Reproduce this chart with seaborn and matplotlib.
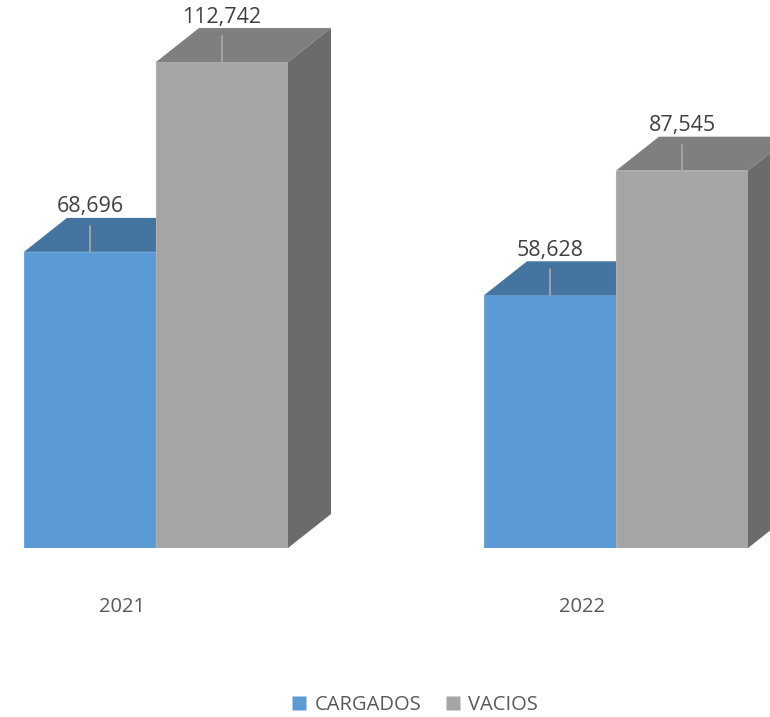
import seaborn as sns
import matplotlib.pyplot as plt
import matplotlib.transforms as mtransforms
from matplotlib.patches import Polygon
from matplotlib.lines import Line2D
import pandas as pd

years = ["2021", "2022"]
tipos = ["CARGADOS", "VACIOS"]
cargados = [68696, 58628]
vacios = [112742, 87545]

df = pd.DataFrame({
    "year": years * 2,
    "tipo": [tipos[0]] * 2 + [tipos[1]] * 2,
    "valor": cargados + vacios,
})

# colores frente / arriba / lado
front = {"CARGADOS": "#5B9BD5", "VACIOS": "#A5A5A5"}
top = {"CARGADOS": "#44749F", "VACIOS": "#7F7F7F"}
side = {"CARGADOS": "#3A6489", "VACIOS": "#6B6B6B"}
edge = {"CARGADOS": "#6FA8DC", "VACIOS": "#B0B0B0"}

sns.set_style("white")
plt.rcParams['font.family'] = ['Open Sans', 'DejaVu Sans']

W, H = 770, 717
fig = plt.figure(figsize=(W / 100, H / 100), dpi=100)
base_px = 717 - 548
ax = fig.add_axes([0, base_px / H, 1, 548 / H])

sns.barplot(data=df, x="year", y="valor", hue="tipo", hue_order=tipos,
            palette=front, width=0.574, saturation=1, ax=ax, legend=False,
            linewidth=0)

upx = 232.0  # valor por pixel
ax.set_ylim(0, 548 * upx)
ax.set_xlim(-156 / 460, (W - 156) / 460)

# profundidad 3D en pixeles
dxp, dyp = 43, 34
dx = dxp / 460
dy = dyp * upx

for i, tipo in enumerate(tipos):
    bars = ax.containers[i]
    for bar in bars:
        bar.set_zorder(2 + 2 * i)
        bar.set_edgecolor(edge[tipo])
        bar.set_linewidth(0.8)
        x0 = bar.get_x()
        w = bar.get_width()
        h = bar.get_height()
        top_poly = Polygon([(x0, h), (x0 + w, h), (x0 + w + dx, h + dy), (x0 + dx, h + dy)],
                           closed=True, facecolor=top[tipo], edgecolor="none", zorder=2.5 + 2 * i)
        side_poly = Polygon([(x0 + w, 0), (x0 + w + dx, dy), (x0 + w + dx, h + dy), (x0 + w, h)],
                            closed=True, facecolor=side[tipo], edgecolor="none", zorder=2.5 + 2 * i)
        ax.add_patch(top_poly)
        ax.add_patch(side_poly)
        cx = x0 + w / 2
        ax.plot([cx, cx], [h, h + 26 * upx], color="#A6A6A6", lw=1.3, zorder=10)
        ax.text(cx, h + 45 * upx, f"{int(h):,}", ha="center", va="center",
                fontsize=15.5, color="#404040", zorder=11)

for s in ax.spines.values():
    s.set_visible(False)
ax.set_yticks([])
ax.set_xlabel("")
ax.set_ylabel("")
ax.tick_params(axis="x", length=0, pad=35, labelsize=14.5, labelcolor="#595959")
shift = mtransforms.ScaledTranslation(-34 / 100, 0, fig.dpi_scale_trans)
for lab in ax.get_xticklabels():
    lab.set_transform(lab.get_transform() + shift)

handles = [Line2D([], [], marker="s", linestyle="none", markersize=9.5,
                  markerfacecolor=front[t], markeredgecolor="none") for t in tipos]
fig.legend(handles, tipos, loc="center", bbox_to_anchor=(415 / W, 12 / H), ncol=2,
           frameon=False, fontsize=14.5, labelcolor="#595959",
           handlelength=0.7, handletextpad=0.4, columnspacing=1.2)

fig.savefig("out.png", dpi=100)
